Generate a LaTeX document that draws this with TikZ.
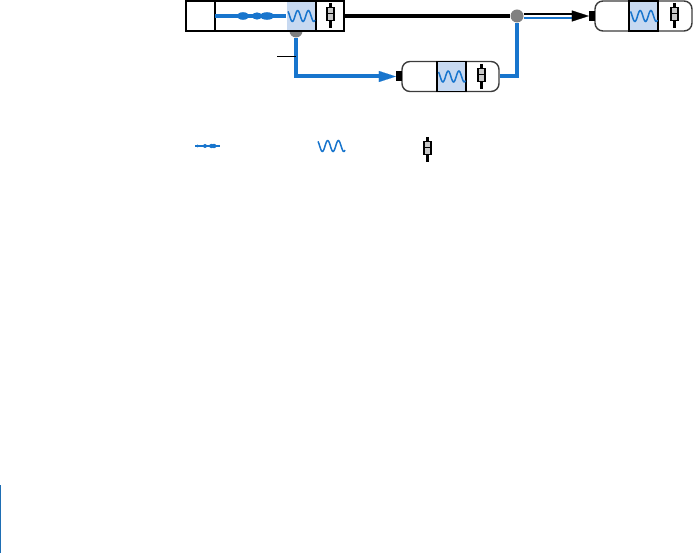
\documentclass[tikz,border=0pt]{standalone}
\usepackage{xcolor}
\usepackage{tikz}
\usetikzlibrary{positioning, arrows.meta, calc}
\definecolor{ink}{RGB}{0,0,0}
\definecolor{rim}{RGB}{60,60,60}
\definecolor{beam}{RGB}{24,117,205}
\definecolor{cellblue}{RGB}{199,217,241}
\definecolor{dot}{RGB}{128,128,128}
\definecolor{lens}{RGB}{200,200,200}
\definecolor{edge}{RGB}{30,110,180}
\tikzset{
  wave/.pic={
    \draw[beam, line width=1.5pt, smooth] plot[domain=-13:14, samples=55]
      (\x, {-5.5*cos(360*(\x+14)/10.7)});},
  mech/.pic={
    \draw[ink, line width=3pt] (0,-12.5) -- (0,12.5);
    \draw[ink, fill=lens, line width=1.5pt] (-3.5,-8) rectangle (3.5,5);
    \draw[ink, line width=1pt] (-3.5,-1.5) -- (3.5,-1.5);},
  strand/.pic={
    \draw[beam, line width=3.6pt] (-36,0) -- (35,0);
    \fill[beam] (-8,0) ellipse (6 and 3.8);
    \fill[beam] (6,0) ellipse (5 and 3.6);
    \fill[beam] (16,0) ellipse (7 and 3.8);},
  smallstrand/.pic={
    \draw[beam, line width=1.3pt] (-12.5,0) -- (12.5,0);
    \fill[beam] (-10,0) circle (1.5);
    \fill[beam] (-2.5,0) ellipse (2 and 2);
    \fill[beam] (4,0) ellipse (2.4 and 2.2);
    \fill[beam] (6.5,0) ellipse (2.4 and 2.2);}
}
\begin{document}
\begin{tikzpicture}[
  x=1pt, y=-1pt,
  frame/.style={draw=ink, line width=2.4pt, minimum height=30pt, inner sep=0pt},
  capsule/.style={draw=rim, fill=white, line width=1.4pt, rounded corners=8pt,
                  minimum width=97pt, minimum height=30pt, inner sep=0pt},
  cell/.style={draw=ink, fill=cellblue, line width=1.8pt, minimum width=29pt,
               minimum height=30pt, inner sep=0pt},
  port/.style={fill=ink, minimum width=6pt, minimum height=10pt, inner sep=0pt},
  tap/.style={circle, fill=dot, minimum size=13pt, inner sep=0pt},
  thickblack/.style={draw=ink, line width=4.4pt},
  thickblue/.style={draw=beam, line width=4pt},
  thinblack/.style={draw=ink, line width=2.2pt},
  thinblue/.style={draw=beam, line width=2.2pt},
  tipblack/.style={-{Triangle[length=17pt, width=11pt]}, draw=ink, line width=0.1pt},
  tipblue/.style={-{Triangle[length=17pt, width=11pt]}, draw=beam, line width=0.1pt}]
  \useasboundingbox (0,0) rectangle (693,553);
  \fill[edge] (0,485) rectangle (1.3,553);
  % source block
  \node[tap] (tapa) at (296,31) {};
  \node[cell, draw=none] (sourcecell) at (301,16) {};
  \node[frame, minimum width=158pt] (source) at (265,16) {};
  \node[frame, minimum width=29pt] (head) at (200.5,16) {};
  \node[frame, minimum width=101pt] (span) at (265.5,16) {};
  \draw[ink, line width=1.8pt] (sourcecell.north east) -- (sourcecell.south east);
  \pic at (251,16) {strand};
  \pic at (301,16) {wave};
  \pic at (330.5,15.5) {mech};
  % middle stage
  \node[capsule] (midstage) at (450.5,76.5) {};
  \node[cell] (midcell) at (451.5,76.5) {};
  \node[port, left=-1pt of midstage] (midport) {};
  \pic at (451.5,76.5) {wave};
  \pic at (481.5,76.5) {mech};
  % end stage
  \node[capsule] (endstage) at (643.5,16) {};
  \node[cell] (endcell) at (643.5,16) {};
  \node[port, left=-1pt of endstage] (endport) {};
  \pic at (643.5,16) {wave};
  \pic at (674.5,15.5) {mech};
  % connectors
  \node[tap] (tapb) at (517,16) {};
  \coordinate (midfoot) at (tapa |- midport);
  \coordinate (hiend) at (575,14);
  \coordinate (loend) at (575,18);
  \coordinate (blackstart) at (tapb.east |- hiend);
  \coordinate (bluestart) at (tapb.east |- loend);
  \coordinate (tipstart) at (574,16);
  \coordinate (bluetip) at (380,76.5);
  \coordinate (leader) at (277,56);
  \draw[thickblue] (tapa.south) -- (midfoot) -- (bluetip);
  \draw[tipblue] (bluetip) -- (midport.west);
  \draw[thickblack] (source.east) -- (tapb.west);
  \draw[thickblue] (midstage.east) -| (tapb.south);
  \draw[thinblack] (blackstart) -- (hiend);
  \draw[thinblue] (bluestart) -- (loend);
  \draw[tipblack] (tipstart) -- (endport.west);
  \draw[ink, line width=0.8pt] (leader) -- (leader -| tapa);
  % legend
  \pic at (207.5,146) {smallstrand};
  \pic at (331,146) {wave};
  \pic at (427.5,149.5) {mech};
\end{tikzpicture}
\end{document}
